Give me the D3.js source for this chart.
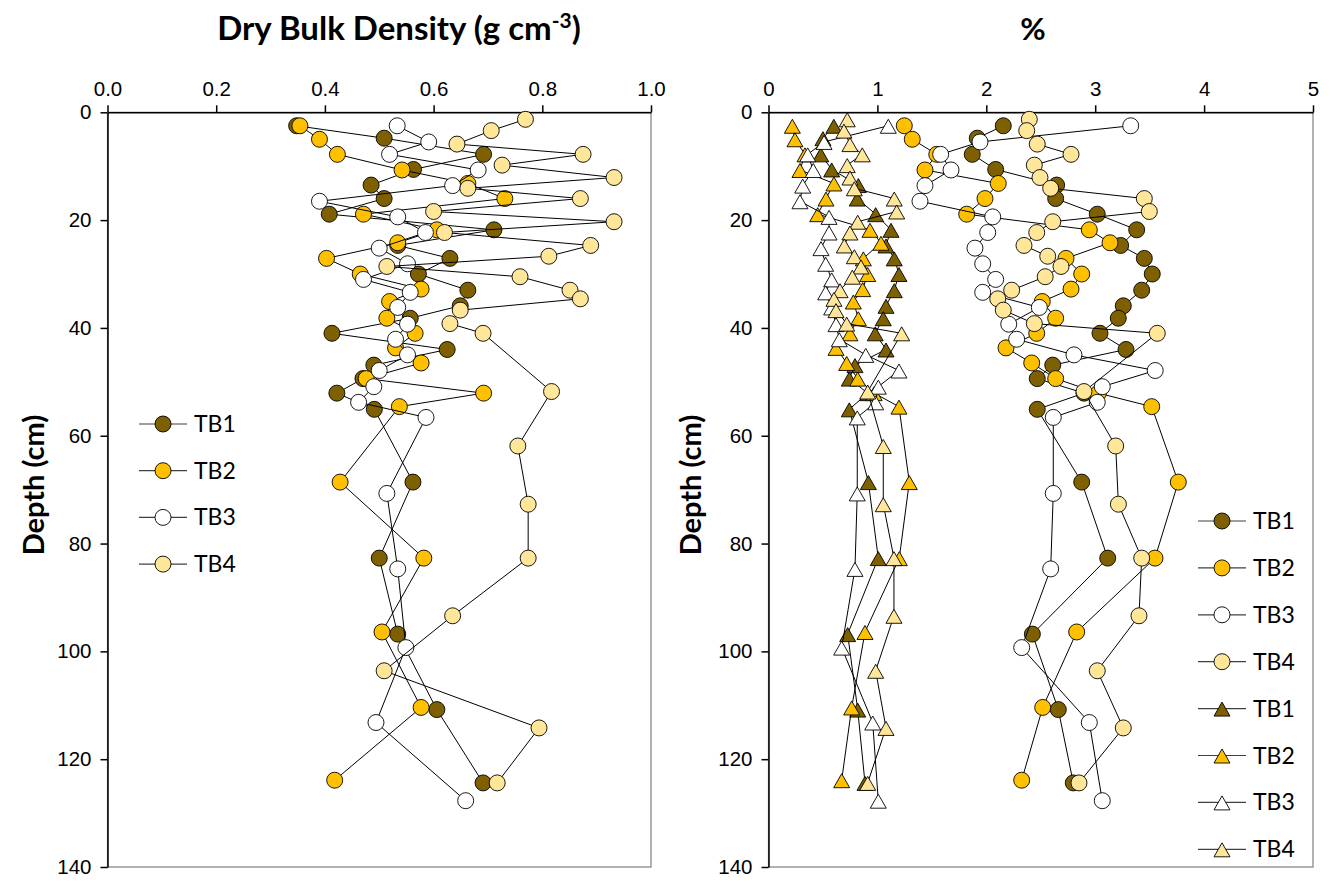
<!DOCTYPE html>
<html>
<head>
<meta charset="utf-8">
<script src="https://cdn.jsdelivr.net/npm/d3@7"></script>
<style>
  body { margin: 0; background: #fff; }
  svg { font-family: Lato, "Open Sans", sans-serif; }
  .axis text { font-size: 20.5px; fill: #000; }
  .axis path, .axis line { stroke: #000; stroke-width: 1.5; }
</style>
</head>
<body>
<svg width="1336" height="882"></svg>
<script>
const seriesNames = ['TB1', 'TB2', 'TB3', 'TB4'];
const fillColors = ['#7f6000', '#ffc000', '#ffffff', '#ffe699'];

// sampling depths (cm) for each core
const depthTB1 = [2.5, 4.8, 7.8, 10.6, 13.5, 16.0, 18.9, 21.8, 24.7, 27.1, 30.0, 33.0, 35.9, 38.2, 41.0, 44.0, 46.9, 49.4, 52.1, 55.1, 68.6, 82.7, 96.8, 110.8, 124.4];
const depthTB2 = [2.5, 5.0, 7.8, 10.7, 13.2, 16.0, 18.9, 21.8, 24.2, 27.1, 30.0, 32.8, 35.1, 38.2, 41.0, 43.7, 46.5, 49.4, 52.1, 54.6, 68.6, 82.7, 96.4, 110.4, 123.9];
const depthTB3 = [2.5, 5.5, 7.8, 10.7, 13.6, 16.5, 19.4, 22.3, 25.2, 28.1, 31.0, 33.4, 36.2, 39.3, 42.1, 45.0, 47.9, 50.9, 53.8, 56.6, 70.7, 84.7, 99.3, 113.2, 127.7];
const depthTB4 = [1.3, 3.4, 5.9, 7.8, 9.8, 12.1, 14.1, 16.0, 18.4, 20.3, 22.3, 24.7, 26.7, 28.6, 30.5, 33.0, 34.6, 36.7, 39.2, 41.0, 51.8, 61.9, 72.7, 82.7, 93.4, 103.6, 114.2, 124.4];

// dry bulk density (g cm-3)
const dbdTB1 = [0.348, 0.509, 0.692, 0.563, 0.485, 0.509, 0.408, 0.711, 0.534, 0.630, 0.572, 0.663, 0.649, 0.557, 0.413, 0.625, 0.490, 0.470, 0.422, 0.491, 0.562, 0.500, 0.534, 0.606, 0.691];
const dbdTB2 = [0.354, 0.390, 0.423, 0.542, 0.663, 0.731, 0.471, 0.606, 0.534, 0.403, 0.465, 0.577, 0.519, 0.514, 0.566, 0.530, 0.577, 0.476, 0.692, 0.537, 0.428, 0.582, 0.505, 0.577, 0.418];
const dbdTB3 = [0.533, 0.591, 0.519, 0.682, 0.635, 0.390, 0.534, 0.585, 0.500, 0.552, 0.471, 0.557, 0.534, 0.552, 0.530, 0.552, 0.500, 0.490, 0.462, 0.586, 0.514, 0.534, 0.549, 0.494, 0.659];
const dbdTB4 = [0.769, 0.706, 0.643, 0.875, 0.726, 0.932, 0.663, 0.870, 0.600, 0.932, 0.620, 0.889, 0.812, 0.514, 0.759, 0.851, 0.870, 0.649, 0.630, 0.691, 0.817, 0.755, 0.774, 0.774, 0.635, 0.509, 0.794, 0.717];

// % (circles)
const pctCircTB1 = [2.156, 1.917, 1.871, 2.086, 2.646, 2.637, 3.019, 3.381, 3.234, 3.451, 3.524, 3.427, 3.258, 3.212, 3.044, 3.283, 2.610, 2.468, 2.897, 2.468, 2.876, 3.115, 2.423, 2.661, 2.799];
const pctCircTB2 = [1.247, 1.320, 1.545, 1.437, 2.110, 1.988, 1.820, 2.946, 3.136, 2.732, 2.876, 2.778, 2.514, 2.637, 2.463, 2.181, 2.417, 2.637, 3.029, 3.519, 3.763, 3.549, 2.830, 2.518, 2.325];
const pctCircTB3 = [3.326, 1.942, 1.581, 1.676, 1.437, 1.391, 2.059, 2.013, 1.896, 1.967, 2.086, 1.967, 2.487, 2.206, 2.279, 2.805, 3.551, 3.065, 3.019, 2.615, 2.615, 2.591, 2.325, 2.946, 3.065];
const pctCircTB4 = [2.395, 2.371, 2.468, 2.778, 2.441, 2.493, 2.591, 3.451, 3.497, 2.610, 2.463, 2.346, 2.564, 2.686, 2.541, 2.233, 2.105, 2.156, 2.441, 3.570, 2.897, 3.188, 3.213, 3.427, 3.402, 3.019, 3.258, 2.851];

// % (triangles)
const pctTriTB1 = [0.60, 0.50, 0.48, 0.58, 0.825, 0.815, 0.984, 1.125, 1.079, 1.155, 1.198, 1.155, 1.079, 1.054, 0.98, 1.079, 0.794, 0.742, 0.911, 0.742, 0.917, 1.008, 0.727, 0.819, 0.886];
const pctTriTB2 = [0.219, 0.243, 0.335, 0.289, 0.601, 0.528, 0.452, 0.932, 1.033, 0.871, 0.911, 0.865, 0.779, 0.825, 0.748, 0.620, 0.718, 0.819, 0.97, 1.198, 1.293, 1.201, 0.886, 0.764, 0.672];
const pctTriTB3 = [1.100, 0.510, 0.360, 0.411, 0.314, 0.289, 0.556, 0.556, 0.482, 0.525, 0.580, 0.525, 0.580, 0.620, 0.650, 0.893, 1.198, 1.008, 0.984, 0.815, 0.815, 0.794, 0.672, 0.957, 1.008];
const pctTriTB4 = [0.723, 0.693, 0.748, 0.861, 0.723, 0.748, 0.788, 1.155, 1.177, 0.819, 0.748, 0.696, 0.788, 0.849, 0.770, 0.657, 0.601, 0.620, 0.718, 1.223, 0.911, 1.054, 1.054, 1.152, 1.152, 0.984, 1.079, 0.911];

const depthTicks = [0, 20, 40, 60, 80, 100, 120, 140];
const dbdTicks = [0, 0.2, 0.4, 0.6, 0.8, 1.0];
const pctTicks = [0, 1, 2, 3, 4, 5];

const depths = [depthTB1, depthTB2, depthTB3, depthTB4];
const dbd = [dbdTB1, dbdTB2, dbdTB3, dbdTB4];
const pctCirc = [pctCircTB1, pctCircTB2, pctCircTB3, pctCircTB4];
const pctTri = [pctTriTB1, pctTriTB2, pctTriTB3, pctTriTB4];

const plotTop = 112.3, plotBottom = 867;
const svg = d3.select('svg');

const y = d3.scaleLinear().domain([0, 140]).range([plotTop, plotBottom]);
const xL = d3.scaleLinear().domain([0, 1]).range([107.5, 651]);
const xR = d3.scaleLinear().domain([0, 5]).range([768.5, 1313]);

function zip(xs, ds){
  return xs.map(function(v, i){ return {x: v, d: ds[i]}; });
}

function trianglePath(){
  return 'M0,-6.5L8,7.5L-8,7.5Z';
}

function drawFrame(x){
  svg.append('rect')
     .attr('x', x.range()[0]).attr('y', plotTop)
     .attr('width', x.range()[1] - x.range()[0]).attr('height', plotBottom - plotTop)
     .attr('fill', 'none').attr('stroke', '#7f7f7f').attr('stroke-width', 1.2);
}

function drawAxes(x, ticks, fmt){
  svg.append('g').attr('class', 'axis')
     .attr('transform', 'translate(0,' + plotTop + ')')
     .call(d3.axisTop(x).tickValues(ticks).tickFormat(fmt).tickSize(7).tickSizeOuter(0).tickPadding(9));
  svg.append('g').attr('class', 'axis')
     .attr('transform', 'translate(' + x.range()[0] + ',0)')
     .call(d3.axisLeft(y).tickValues(depthTicks).tickSize(7).tickSizeOuter(0).tickPadding(9));
}

function drawSeries(g, x, pts, color, shape){
  g.append('path')
   .datum(pts)
   .attr('fill', 'none')
   .attr('stroke', '#000')
   .attr('stroke-width', 1)
   .attr('d', d3.line().x(function(d){ return x(d.x); }).y(function(d){ return y(d.d); }));
  if(shape == 'circle'){
    g.selectAll('circle.m').data(pts).enter().append('circle')
     .attr('class', 'm')
     .attr('cx', function(d){ return x(d.x); })
     .attr('cy', function(d){ return y(d.d); })
     .attr('r', 8)
     .attr('fill', color).attr('stroke', '#000').attr('stroke-width', 0.9);
  }else{
    g.selectAll('path.m').data(pts).enter().append('path')
     .attr('class', 'm')
     .attr('d', trianglePath())
     .attr('transform', function(d){ return 'translate(' + x(d.x) + ',' + y(d.d) + ')'; })
     .attr('fill', color).attr('stroke', '#000').attr('stroke-width', 0.9);
  }
}

function legendItem(lx, ly, color, shape, label){
  let g = svg.append('g').attr('transform', 'translate(' + lx + ',' + ly + ')');
  g.append('line').attr('x1', -24).attr('x2', 24).attr('stroke', '#404040').attr('stroke-width', 1.2);
  if(shape == 'circle'){
    g.append('circle').attr('r', 8).attr('fill', color).attr('stroke', '#000').attr('stroke-width', 0.9);
  }else{
    g.append('path').attr('d', trianglePath()).attr('fill', color).attr('stroke', '#000').attr('stroke-width', 0.9);
  }
  g.append('text').attr('x', 31).attr('y', 8).attr('font-size', 23).text(label);
}

// left panel
drawFrame(xL);
drawAxes(xL, dbdTicks, d3.format('.1f'));
for(let i = 0; i < 4; i++){
  drawSeries(svg.append('g'), xL, zip(dbd[i], depths[i]), fillColors[i], 'circle');
}

// right panel
drawFrame(xR);
drawAxes(xR, pctTicks, d3.format('d'));
for(let i = 0; i < 4; i++){
  drawSeries(svg.append('g'), xR, zip(pctCirc[i], depths[i]), fillColors[i], 'circle');
}
for(let i = 0; i < 4; i++){
  drawSeries(svg.append('g'), xR, zip(pctTri[i], depths[i]), fillColors[i], 'triangle');
}

// titles
svg.append('text').attr('x', 399).attr('y', 40).attr('text-anchor', 'middle')
   .attr('font-size', 33).attr('font-weight', 'bold')
   .html('Dry Bulk Density (g cm<tspan dy="-12" font-size="21">-3</tspan><tspan dy="12">)</tspan>');
svg.append('text').attr('x', 1033).attr('y', 40).attr('text-anchor', 'middle')
   .attr('font-size', 31).attr('font-weight', 'bold').text('%');

svg.append('text').attr('transform', 'translate(44,485) rotate(-90)').attr('text-anchor', 'middle')
   .attr('font-size', 29).attr('font-weight', 'bold').text('Depth (cm)');
svg.append('text').attr('transform', 'translate(701,485) rotate(-90)').attr('text-anchor', 'middle')
   .attr('font-size', 29).attr('font-weight', 'bold').text('Depth (cm)');

// legends
for(let i = 0; i < 4; i++){
  legendItem(163, 424 + i * 46.7, fillColors[i], 'circle', seriesNames[i]);
}
for(let i = 0; i < 8; i++){
  legendItem(1222, 521 + i * 46.9, fillColors[i % 4], i < 4 ? 'circle' : 'triangle', seriesNames[i % 4]);
}
</script>
</body>
</html>
